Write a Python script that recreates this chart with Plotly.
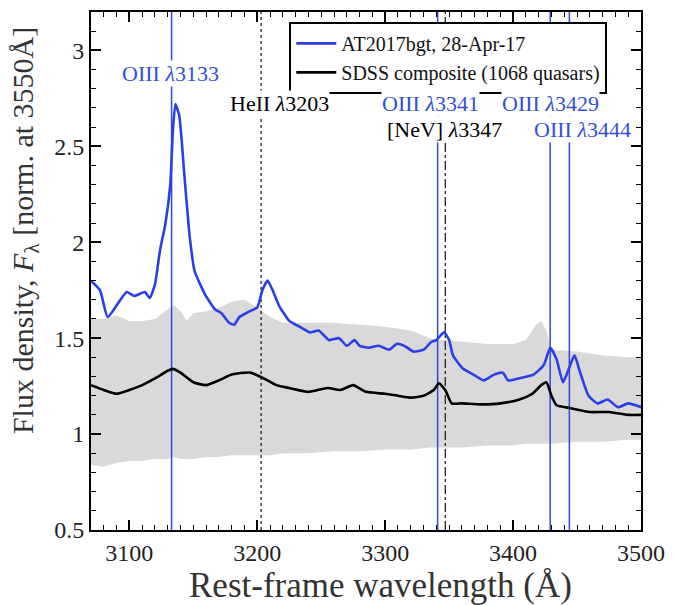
import plotly.graph_objects as go

# ---- data ----
blue_wl = [3070, 3077, 3083, 3090, 3093, 3098, 3104, 3112, 3116, 3120, 3124, 3128, 3132, 3134, 3136, 3139,
           3143, 3147, 3151, 3159, 3167, 3172, 3178, 3182, 3186, 3194, 3200, 3204, 3208, 3212, 3217, 3225,
           3233, 3241, 3248, 3256, 3264, 3270, 3276, 3280, 3287, 3295, 3303, 3309, 3315, 3322, 3330, 3336,
           3340, 3346, 3350, 3353, 3361, 3369, 3377, 3385, 3392, 3396, 3404, 3416, 3424, 3429, 3434, 3439,
           3443, 3448, 3452, 3459, 3466, 3474, 3482, 3490, 3500]
blue_flux = [1.80, 1.75, 1.61, 1.67, 1.70, 1.74, 1.72, 1.74, 1.71, 1.78, 1.96, 2.09, 2.30, 2.58, 2.72, 2.66,
             2.35, 2.04, 1.85, 1.73, 1.65, 1.63, 1.58, 1.57, 1.61, 1.64, 1.66, 1.75, 1.80, 1.75, 1.67, 1.59,
             1.56, 1.53, 1.54, 1.49, 1.50, 1.46, 1.49, 1.46, 1.45, 1.46, 1.44, 1.47, 1.46, 1.43, 1.44, 1.48,
             1.49, 1.53, 1.49, 1.41, 1.34, 1.31, 1.28, 1.31, 1.32, 1.28, 1.29, 1.31, 1.36, 1.45, 1.39, 1.27,
             1.33, 1.41, 1.33, 1.20, 1.16, 1.18, 1.14, 1.16, 1.14]

sdss_wl = [3070, 3080, 3090, 3100, 3110, 3120, 3130, 3134, 3140, 3150, 3160, 3170, 3180, 3190, 3195, 3205,
           3215, 3225, 3240, 3255, 3265, 3275, 3285, 3300, 3310, 3320, 3330, 3338, 3342, 3347, 3352, 3360,
           3375, 3390, 3405, 3415, 3422, 3426, 3430, 3434, 3445, 3460, 3475, 3490, 3500]
sdss_flux = [1.255, 1.23, 1.21, 1.23, 1.255, 1.29, 1.33, 1.34, 1.32, 1.27, 1.255, 1.28, 1.31, 1.32, 1.32, 1.29,
             1.255, 1.24, 1.22, 1.24, 1.23, 1.255, 1.22, 1.21, 1.20, 1.19, 1.20, 1.23, 1.265, 1.23, 1.16, 1.16,
             1.155, 1.16, 1.18, 1.21, 1.255, 1.27, 1.20, 1.15, 1.135, 1.115, 1.115, 1.10, 1.10]

band_wl = [3070, 3080, 3090, 3100, 3110, 3120, 3130, 3135, 3140, 3145, 3150, 3160, 3170, 3180, 3190, 3200,
           3210, 3220, 3240, 3260, 3280, 3300, 3320, 3335, 3345, 3360, 3380, 3400, 3410, 3418, 3422, 3426,
           3430, 3450, 3470, 3490, 3500]
band_upper = [1.60, 1.60, 1.62, 1.59, 1.59, 1.60, 1.65, 1.67, 1.64, 1.59, 1.63, 1.64, 1.66, 1.69, 1.70, 1.66,
              1.61, 1.58, 1.58, 1.58, 1.57, 1.56, 1.54, 1.50, 1.49, 1.48, 1.47, 1.47, 1.49, 1.57, 1.59, 1.54,
              1.44, 1.43, 1.41, 1.40, 1.40]
band_lower = [0.84, 0.83, 0.85, 0.86, 0.86, 0.87, 0.87, 0.88, 0.87, 0.87, 0.87, 0.88, 0.88, 0.89, 0.89, 0.89,
              0.89, 0.90, 0.90, 0.91, 0.91, 0.92, 0.92, 0.93, 0.93, 0.93, 0.94, 0.94, 0.95, 0.95, 0.95, 0.95,
              0.95, 0.96, 0.96, 0.97, 0.97]

line_wl = [3133, 3203, 3341, 3347, 3429, 3444]
line_kind = ["OIII", "HeII", "OIII", "NeV", "OIII", "OIII"]
label_text = ["OIII <i>λ</i>3133", "HeII <i>λ</i>3203", "OIII <i>λ</i>3341",
              "[NeV] <i>λ</i>3347", "OIII <i>λ</i>3429", "OIII <i>λ</i>3444"]
label_x = [3132, 3217, 3335.5, 3346.5, 3429, 3454.5]
label_y = [2.88, 2.725, 2.725, 2.585, 2.725, 2.585]

X_RANGE = [3070, 3500]
Y_RANGE = [0.5, 3.2]

BLUE = "#2b3fe6"
LABEL_BLUE = "#3350d6"
FONT = "Liberation Serif"

fig = go.Figure()

# grey band (SDSS spread)
fig.add_trace(go.Scatter(x=band_wl, y=band_lower, mode="lines", line=dict(width=0, color="#d6d6d6"),
                         showlegend=False, hoverinfo="skip"))
fig.add_trace(go.Scatter(x=band_wl, y=band_upper, mode="lines", line=dict(width=0, color="#d6d6d6"),
                         fill="tonexty", fillcolor="#d9d9d9", showlegend=False, hoverinfo="skip"))

# vertical line markers
for wl, kind in zip(line_wl, line_kind):
    if kind == "OIII":
        ln = dict(color="#3046e0", width=1.5)
    elif kind == "HeII":
        ln = dict(color="#222222", width=1.3, dash="dot")
    else:
        ln = dict(color="#222222", width=1.3, dash="dashdot")
    fig.add_trace(go.Scatter(x=[wl, wl], y=Y_RANGE, mode="lines", line=ln,
                             showlegend=False, hoverinfo="skip"))

fig.add_trace(go.Scatter(x=blue_wl, y=blue_flux, mode="lines", name="AT2017bgt, 28-Apr-17",
                         line=dict(color=BLUE, width=2.6, shape="spline", smoothing=0.5)))
fig.add_trace(go.Scatter(x=sdss_wl, y=sdss_flux, mode="lines", name="SDSS composite (1068 quasars)",
                         line=dict(color="black", width=2.6, shape="spline", smoothing=0.5)))

for txt, lx, ly, kind in zip(label_text, label_x, label_y, line_kind):
    fig.add_annotation(x=lx, y=ly, text=txt, showarrow=False, bgcolor="white",
                       font=dict(family=FONT, size=22, color=LABEL_BLUE if kind == "OIII" else "black"),
                       borderpad=0)

# axis titles (as annotations for exact placement)
fig.add_annotation(xref="paper", yref="paper", x=0.527, y=-0.108, xanchor="center", yanchor="middle",
                   text="Rest-frame wavelength (Å)", showarrow=False,
                   font=dict(family=FONT, size=35, color="#333333"))
fig.add_annotation(xref="paper", yref="paper", x=-0.12, y=0.577, xanchor="center", yanchor="middle",
                   text="Flux density, <i>F</i><sub>λ</sub> [norm. at 3550Å]", showarrow=False,
                   textangle=-90, font=dict(family=FONT, size=30, color="#333333"))

axis_common = dict(showline=True, linewidth=2, linecolor="black", mirror="ticks", ticks="inside",
                   ticklen=10, tickwidth=1.6, tickcolor="black", showgrid=False, zeroline=False,
                   tickfont=dict(family=FONT, size=24, color="#222222"))

fig.update_xaxes(range=X_RANGE, dtick=100, tick0=3100,
                 minor=dict(ticks="inside", ticklen=5, dtick=10, tickwidth=1.2, tickcolor="black"),
                 **axis_common)
fig.update_yaxes(range=Y_RANGE, dtick=0.5, tick0=0.5,
                 minor=dict(ticks="inside", ticklen=5, dtick=0.1, tickwidth=1.2, tickcolor="black"),
                 **axis_common)

fig.update_layout(
    width=675, height=605,
    margin=dict(l=91, r=32, t=10, b=75),
    font=dict(family=FONT),
    hovermode=False,
    paper_bgcolor="white", plot_bgcolor="white",
    legend=dict(x=0.3605, y=0.981, xanchor="left", yanchor="top", bgcolor="white",
                bordercolor="black", borderwidth=2, traceorder="normal",
                font=dict(family=FONT, size=20, color="#111111"),
                tracegroupgap=0, itemwidth=40),
)

fig.write_html("out.html", config={"displayModeBar": False},
               post_script="document.body.style.margin='0px';")
